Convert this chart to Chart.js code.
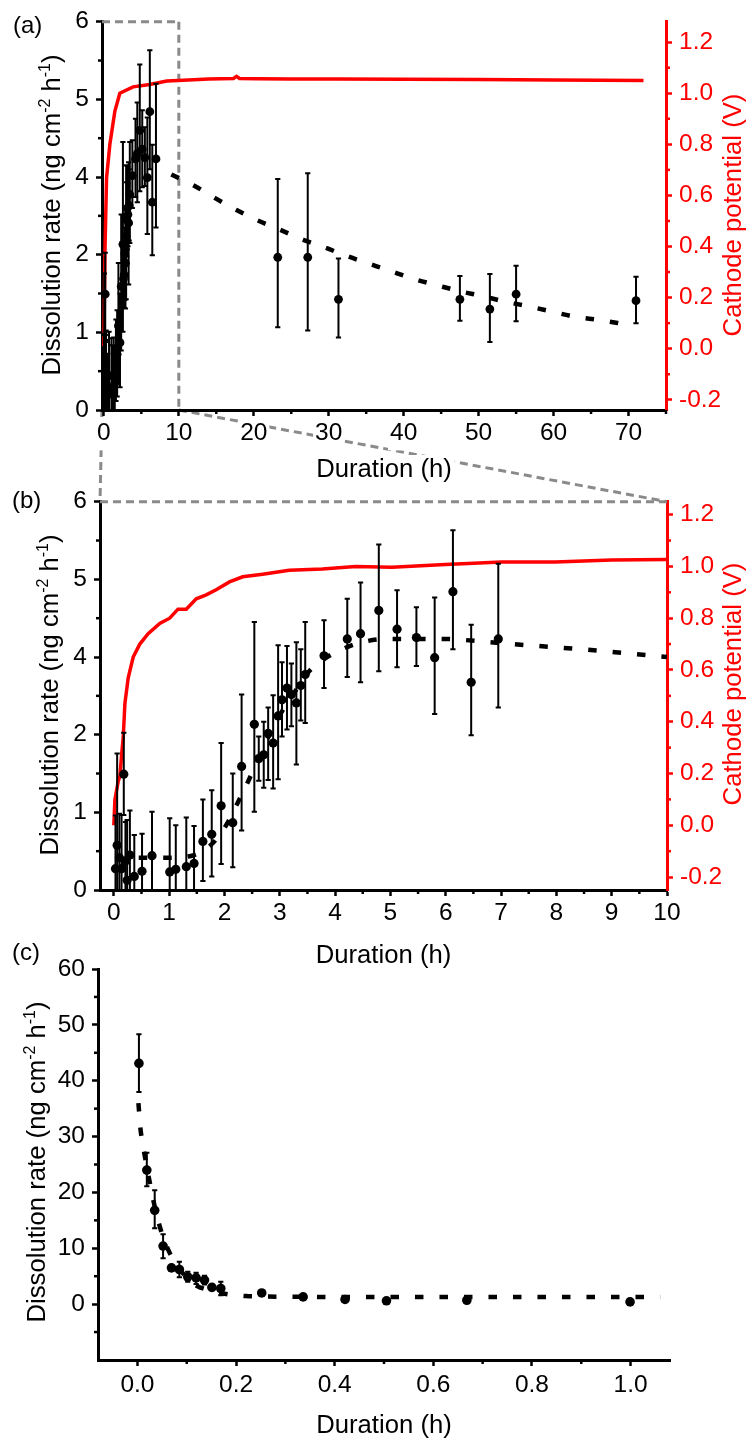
<!DOCTYPE html>
<html>
<head>
<meta charset="utf-8">
<script src="https://cdn.jsdelivr.net/npm/chart.js@4.4.1/dist/chart.umd.min.js"></script>
<style>
html,body{margin:0;padding:0;background:#fff;}
#wrap{position:relative;width:753px;height:1441px;overflow:hidden;background:#fff;}
#wrap canvas{position:absolute;left:0;}
</style>
</head>
<body>
<div id="wrap">
  <canvas id="ov" width="753" height="1441" style="top:0;z-index:0"></canvas>
  <canvas id="ca" width="753" height="490" style="top:0;z-index:1"></canvas>
  <canvas id="cb" width="753" height="500" style="top:480px;z-index:2"></canvas>
  <canvas id="cc" width="753" height="511" style="top:930px;z-index:3"></canvas>
</div>
<script>
// ================= DATA =================
// Dissolution rate, long run (panels a and b share it); y in left-axis units
const RATE_T  = [0.03,0.06,0.10,0.14,0.18,0.21,0.24,0.29,0.37,0.51,0.69,1.01,1.12,1.31,1.45,1.61,1.77,1.94,2.15,2.31,2.54,2.62,2.71,2.79,2.88,2.97,3.04,3.13,3.21,3.30,3.38,3.46,3.80,4.22,4.46,4.79,5.12,5.47,5.80,6.13,6.46,6.95,23.2,27.2,31.3,47.5,51.5,55.0,71.0];
const RATE_V  = [0.33,0.69,0.50,0.33,1.79,0.45,0.15,0.54,0.21,0.29,0.53,0.28,0.32,0.36,0.41,0.75,0.86,1.30,1.04,1.91,2.56,2.03,2.09,2.42,2.27,2.69,2.94,3.12,3.02,2.89,3.16,3.33,3.62,3.88,3.96,4.32,4.03,3.90,3.59,4.61,3.21,3.88,2.36,2.36,1.71,1.71,1.56,1.79,1.69];
const RATE_LO = [0,0,0,0,1.16,0,0,0,0,0,0,0,0,0,0,0.14,0.21,0.40,0.35,0.92,1.21,1.69,1.58,1.70,1.57,1.71,2.37,2.48,2.53,1.94,2.62,2.58,3.12,3.29,3.21,3.38,3.44,3.46,2.72,3.72,2.39,2.82,1.28,1.23,1.12,1.38,1.05,1.37,1.34];
const RATE_HI = [1.15,2.11,1.18,1.16,2.43,1.05,1.08,1.23,0.85,0.87,1.21,1.11,1.00,1.12,0.99,1.40,1.54,2.27,1.80,3.02,4.14,2.37,2.60,2.82,3.01,3.78,3.52,3.77,3.50,3.83,3.72,4.14,4.17,4.50,4.75,5.34,4.63,4.37,4.52,5.56,4.10,5.04,3.57,3.66,2.34,2.07,2.10,2.23,2.06];

// Dashed fits
const FIT_B_T = [0.45,1.0,1.41,1.76,2.03,2.24,2.43,2.7,3.0,3.3,3.5,3.77,4.18,4.6,5.03,5.9,6.8,7.2,8.0,9.0,10.0];
const FIT_B_V = [0.50,0.50,0.53,0.70,1.00,1.35,1.68,2.20,2.70,3.10,3.35,3.55,3.74,3.85,3.88,3.88,3.83,3.80,3.75,3.68,3.60];
const FIT_A_T = [9.0,12.3,14.9,17.7,20.5,23.2,26.6,29.5,32.4,35.4,38.4,41.5,44.4,47.7,50.5,53.3,56.3,59.8,62.9,66.1,69.8];
const FIT_A_V = [3.64,3.45,3.27,3.09,2.93,2.80,2.63,2.51,2.38,2.26,2.14,2.02,1.93,1.83,1.76,1.68,1.61,1.52,1.44,1.39,1.32];

// Cathode potential (V)
const POT_A_T = [0,0.15,0.36,0.8,1.47,2.13,3.9,6.1,8.4,9.9,14,17.3,17.7,18.1,20.4,25,31,40,50,60,72];
const POT_A_V = [0.01,0.39,0.67,0.80,0.93,1.00,1.025,1.034,1.048,1.05,1.056,1.058,1.066,1.058,1.057,1.056,1.056,1.055,1.054,1.052,1.05];
const POT_B_T = [0,0.02,0.08,0.11,0.14,0.17,0.2,0.26,0.35,0.47,0.62,0.83,1.01,1.16,1.31,1.49,1.67,1.85,2.09,2.33,2.69,3.17,3.77,4.37,5.03,5.99,7.01,7.98,9.0,10.0];
const POT_B_V = [0.0,0.10,0.17,0.19,0.27,0.34,0.47,0.57,0.65,0.70,0.74,0.78,0.80,0.835,0.835,0.875,0.89,0.91,0.94,0.96,0.97,0.985,0.99,1.0,0.997,1.007,1.017,1.017,1.025,1.027];

// Panel (c): first hour
const C_T  = [0.003,0.019,0.035,0.052,0.069,0.085,0.102,0.119,0.136,0.151,0.169,0.252,0.336,0.421,0.505,0.668,0.999];
const C_V  = [43.1,24.0,16.8,10.4,6.5,6.2,4.9,4.7,4.3,3.0,2.8,2.0,1.3,0.84,0.6,0.7,0.4];
const C_LO = [38.0,21.1,13.6,8.2,6.0,4.8,4.0,3.6,3.5,2.5,1.6,1.7,1.0,0.6,0.3,0.4,0.1];
const C_HI = [48.3,27.1,20.4,12.5,7.0,7.6,5.8,5.6,5.1,3.5,4.0,2.5,1.6,1.1,0.9,1.0,0.7];
const FIT_C_T = [0.002,0.006,0.01,0.016,0.02,0.025,0.03,0.035,0.04,0.045,0.05,0.06,0.07,0.08,0.09,0.1,0.12,0.14,0.16,0.18,0.2,0.22,0.25,0.3,0.4,0.6,0.8,1.06];
const FIT_C_V = [36,31.5,29,26,24,21.8,19.5,17.5,15.6,14,12.5,10.2,8.4,7,5.8,4.6,3.3,2.6,2.15,1.8,1.6,1.45,1.37,1.32,1.3,1.3,1.3,1.3];

// Tick labels
const RATE_TICK_LABELS = ['0','1','2','4','5','6'];
const POT_TICK_LABELS  = ['-0.2','0.0','0.2','0.4','0.6','0.8','1.0','1.2'];
const XA_TICK_LABELS   = ['0','10','20','30','40','50','60','70'];
const XB_TICK_LABELS   = ['0','1','2','3','4','5','6','7','8','9','10'];
const XC_TICK_LABELS   = ['0.0','0.2','0.4','0.6','0.8','1.0'];
const YC_TICK_LABELS   = ['0','10','20','30','40','50','60'];

// ================= HELPERS =================
const FONT = "'Liberation Sans', Arial, Helvetica, sans-serif";
Chart.defaults.font.family = FONT;
Chart.defaults.font.size = 24;
Chart.defaults.color = '#000';
const RED = '#ff0000';
const GREY = '#8a8a8a';
const xy = (t, v) => t.map((x, i) => ({x: x, y: v[i]}));
const RATE_TICK_VALUES = RATE_TICK_LABELS.map((_, i) => i * 6 / (RATE_TICK_LABELS.length - 1));

function axis(o) {
  const color = o.color || '#000';
  return {
    type: 'linear', position: o.pos, min: o.min, max: o.max,
    afterBuildTicks: s => { s.ticks = o.values.map(v => ({value: v})); },
    afterFit: s => { if (o.width != null) s.width = o.width; if (o.height != null) s.height = o.height; },
    ticks: {
      autoSkip: false, maxRotation: 0, minRotation: 0, color: color,
      font: {size: 24.5, family: FONT}, padding: o.pad,
      callback: (v, i) => o.labels[i],
      showLabelBackdrop: !!o.backdrop, backdropColor: '#ffffff', backdropPadding: 2
    },
    grid: {display: true, drawOnChartArea: false, drawTicks: true, tickLength: 6, tickWidth: 2.5, tickColor: color},
    border: {display: true, color: color, width: 3},
    title: {display: false}
  };
}

const TITLE_FONT = "25.7px " + FONT;
const SUP_FONT = "16px " + FONT;
const RATE_TITLE = [{t: 'Dissolution rate (ng cm'}, {t: '-2', sup: true}, {t: ' h'}, {t: '-1', sup: true}, {t: ')'}];
const POT_TITLE = [{t: 'Cathode potential (V)'}];

function drawVertical(ctx, parts, bx, cy, color) {
  ctx.save();
  ctx.translate(bx, cy); ctx.rotate(-Math.PI / 2);
  ctx.fillStyle = color; ctx.textBaseline = 'alphabetic'; ctx.textAlign = 'left';
  let w = 0;
  parts.forEach(p => { ctx.font = p.sup ? SUP_FONT : TITLE_FONT; w += ctx.measureText(p.t).width; });
  let x = -w / 2;
  parts.forEach(p => {
    ctx.font = p.sup ? SUP_FONT : TITLE_FONT;
    ctx.fillText(p.t, x, p.sup ? -9.5 : 0);
    x += ctx.measureText(p.t).width;
  });
  ctx.restore();
}

function dashLine(ctx, x1, y1, x2, y2) {
  ctx.save();
  ctx.strokeStyle = GREY; ctx.lineWidth = 3; ctx.setLineDash([8, 5]);
  ctx.beginPath(); ctx.moveTo(x1, y1); ctx.lineTo(x2, y2); ctx.stroke();
  ctx.restore();
}

const deco = {
  id: 'deco',
  beforeDatasetsDraw(chart, args, o) {
    const ctx = chart.ctx;
    if (o.zoomRect) {
      const x = chart.scales.x, y = chart.scales.y;
      const xl = x.getPixelForValue(o.zoomRect[0]), xr = x.getPixelForValue(o.zoomRect[1]);
      const yb = y.getPixelForValue(o.zoomRect[2]), yt = y.getPixelForValue(o.zoomRect[3]);
      dashLine(ctx, xl, yt, xr, yt);
      dashLine(ctx, xr, yt, xr, yb);
    }
    if (o.topLine) {
      const a = chart.chartArea;
      dashLine(ctx, a.left, a.top, a.right, a.top);
    }
  },
  beforeDatasetDraw(chart, args) {
    const ds = chart.data.datasets[args.index];
    if (!ds.errLo) return;
    const ctx = chart.ctx, meta = args.meta;
    const xs = chart.scales[meta.xAxisID], ys = chart.scales[meta.yAxisID];
    ctx.save();
    ctx.strokeStyle = '#000'; ctx.lineWidth = 2;
    ds.data.forEach((p, i) => {
      const px = xs.getPixelForValue(p.x);
      const t = ys.getPixelForValue(ds.errHi[i]), b = ys.getPixelForValue(ds.errLo[i]);
      ctx.beginPath();
      ctx.moveTo(px, t); ctx.lineTo(px, b);
      ctx.moveTo(px - 2.6, t); ctx.lineTo(px + 2.6, t);
      ctx.moveTo(px - 2.6, b); ctx.lineTo(px + 2.6, b);
      ctx.stroke();
    });
    ctx.restore();
  },
  afterDraw(chart, args, o) {
    const ctx = chart.ctx, a = chart.chartArea, top = o.top;
    (o.minor || []).forEach(m => {
      const s = chart.scales[m.id];
      ctx.save(); ctx.strokeStyle = m.color || '#000'; ctx.lineWidth = 2.5;
      for (let v = m.start; v <= m.end + 1e-9; v += m.step) {
        const p = s.getPixelForValue(v);
        ctx.beginPath();
        if (m.id === 'x') { ctx.moveTo(p, a.bottom); ctx.lineTo(p, a.bottom + 4); }
        else if (s.position === 'left') { ctx.moveTo(a.left, p); ctx.lineTo(a.left - 4, p); }
        else { ctx.moveTo(a.right, p); ctx.lineTo(a.right + 4, p); }
        ctx.stroke();
      }
      ctx.restore();
    });
    if (o.xTitle) {
      ctx.save();
      ctx.font = TITLE_FONT;
      const w = ctx.measureText(o.xTitle.text).width;
      const cx = (a.left + a.right) / 2, by = o.xTitle.baseline - top;
      ctx.fillStyle = '#fff';
      ctx.fillRect(cx - w / 2 - 3, by - 22, w + 6, 29);
      ctx.fillStyle = '#000'; ctx.textAlign = 'center'; ctx.textBaseline = 'alphabetic';
      ctx.fillText(o.xTitle.text, cx, by);
      ctx.restore();
    }
    if (o.yLeft) drawVertical(ctx, RATE_TITLE, o.yLeft.bx, o.yLeft.cy - top, '#000');
    if (o.yRight) drawVertical(ctx, POT_TITLE, o.yRight.bx, o.yRight.cy - top, RED);
    if (o.panel) {
      ctx.save(); ctx.font = "24px " + FONT; ctx.fillStyle = '#000';
      ctx.textAlign = 'left'; ctx.textBaseline = 'alphabetic';
      ctx.fillText(o.panel.text, o.panel.x, o.panel.y - top);
      ctx.restore();
    }
  }
};

function pointsDs(t, v, lo, hi, r, yID) {
  return {type: 'scatter', data: xy(t, v), errLo: lo, errHi: hi, yAxisID: yID || 'y', order: 0,
    showLine: false, pointRadius: r, pointHoverRadius: r, backgroundColor: '#000', borderWidth: 0, pointBorderWidth: 0};
}
function fitDs(t, v) {
  return {type: 'scatter', data: xy(t, v), yAxisID: 'y', order: 1, showLine: true, pointRadius: 0,
    borderColor: '#000', borderWidth: 4.5, borderDash: [8.5, 16], borderCapStyle: 'butt',
    cubicInterpolationMode: 'monotone', fill: false};
}
function potDs(t, v) {
  return {type: 'scatter', data: xy(t, v), yAxisID: 'y2', order: 2, showLine: true, pointRadius: 0,
    borderColor: RED, borderWidth: 3.5, tension: 0, fill: false};
}
const baseOpts = {responsive: false, animation: false, devicePixelRatio: 1, events: []};

// ================= PANEL (a) =================
const TOP_A = 0, TOP_B = 480, TOP_C = 930;
const ZOOM = [-0.25, 10, 0, 6];

const chartA = new Chart(document.getElementById('ca'), {
  type: 'scatter',
  data: {datasets: [
    pointsDs(RATE_T, RATE_V, RATE_LO, RATE_HI, 4.4),
    fitDs(FIT_A_T, FIT_A_V),
    potDs(POT_A_T, POT_A_V)
  ]},
  options: Object.assign({}, baseOpts, {
    layout: {padding: {top: 19, left: 0, right: 0, bottom: 0}},
    scales: {
      x: axis({pos: 'bottom', min: -0.25, max: 75, values: XA_TICK_LABELS.map(Number), labels: XA_TICK_LABELS, height: 80, pad: 3, backdrop: true}),
      y: axis({pos: 'left', min: 0, max: 6, values: RATE_TICK_VALUES, labels: RATE_TICK_LABELS, width: 102, pad: 7}),
      y2: axis({pos: 'right', min: -0.24, max: 1.28, values: POT_TICK_LABELS.map(Number), labels: POT_TICK_LABELS, width: 87, pad: 7, color: RED})
    },
    plugins: {
      legend: {display: false}, tooltip: {enabled: false},
      deco: {
        top: TOP_A, zoomRect: ZOOM,
        minor: [{id: 'x', start: 5, step: 10, end: 75}, {id: 'y', start: 0.6, step: 1.2, end: 5.4},
                {id: 'y2', start: -0.1, step: 0.2, end: 1.1, color: RED}],
        xTitle: {text: 'Duration (h)', baseline: 477},
        yLeft: {bx: 59.5, cy: 215}, yRight: {bx: 741, cy: 215},
        panel: {text: '(a)', x: 13, y: 33}
      }
    }
  }),
  plugins: [deco]
});

// ================= PANEL (b) =================
const chartB = new Chart(document.getElementById('cb'), {
  type: 'scatter',
  data: {datasets: [
    pointsDs(RATE_T, RATE_V, RATE_LO, RATE_HI, 4.6),
    fitDs(FIT_B_T, FIT_B_V),
    potDs(POT_B_T, POT_B_V)
  ]},
  options: Object.assign({}, baseOpts, {
    layout: {padding: {top: 21, left: 0, right: 0, bottom: 0}},
    scales: {
      x: axis({pos: 'bottom', min: ZOOM[0], max: ZOOM[1], values: XB_TICK_LABELS.map(Number), labels: XB_TICK_LABELS, height: 90, pad: 3}),
      y: axis({pos: 'left', min: ZOOM[2], max: ZOOM[3], values: RATE_TICK_VALUES, labels: RATE_TICK_LABELS, width: 100, pad: 7}),
      y2: axis({pos: 'right', min: -0.25, max: 1.25, values: POT_TICK_LABELS.map(Number), labels: POT_TICK_LABELS, width: 86, pad: 7, color: RED})
    },
    plugins: {
      legend: {display: false}, tooltip: {enabled: false},
      deco: {
        top: TOP_B, topLine: true,
        minor: [{id: 'x', start: 0.5, step: 1, end: 9.5}, {id: 'y', start: 0.6, step: 1.2, end: 5.4},
                {id: 'y2', start: -0.1, step: 0.2, end: 1.1, color: RED}],
        xTitle: {text: 'Duration (h)', baseline: 963},
        yLeft: {bx: 57.5, cy: 695}, yRight: {bx: 741, cy: 684},
        panel: {text: '(b)', x: 12, y: 508}
      }
    }
  }),
  plugins: [deco]
});

// ================= PANEL (c) =================
const chartC = new Chart(document.getElementById('cc'), {
  type: 'scatter',
  data: {datasets: [
    pointsDs(C_T, C_V, C_LO, C_HI, 4.8),
    fitDs(FIT_C_T, FIT_C_V)
  ]},
  options: Object.assign({}, baseOpts, {
    layout: {padding: {top: 39, left: 0, right: 83, bottom: 0}},
    scales: {
      x: axis({pos: 'bottom', min: -0.08, max: 1.08, values: XC_TICK_LABELS.map(Number), labels: XC_TICK_LABELS, height: 81, pad: 5}),
      y: axis({pos: 'left', min: -10, max: 60, values: YC_TICK_LABELS.map(Number), labels: YC_TICK_LABELS, width: 98, pad: 7})
    },
    plugins: {
      legend: {display: false}, tooltip: {enabled: false},
      deco: {
        top: TOP_C,
        minor: [{id: 'x', start: 0.1, step: 0.2, end: 0.9}, {id: 'y', start: -5, step: 10, end: 55}],
        xTitle: {text: 'Duration (h)', baseline: 1433},
        yLeft: {bx: 44.6, cy: 1162},
        panel: {text: '(c)', x: 12, y: 960}
      }
    }
  }),
  plugins: [deco]
});

// ================= zoom connectors (a) -> (b) =================
(function () {
  const ctx = document.getElementById('ov').getContext('2d');
  const ax = chartA.scales.x, ay = chartA.scales.y, bx = chartB.scales.x, by = chartB.scales.y;
  const y0 = ay.getPixelForValue(ZOOM[2]) + TOP_A;
  const yTop = by.getPixelForValue(ZOOM[3]) + TOP_B;
  dashLine(ctx, ax.getPixelForValue(ZOOM[0]), y0, bx.getPixelForValue(ZOOM[0]), yTop);
  dashLine(ctx, ax.getPixelForValue(ZOOM[1]), y0, bx.getPixelForValue(ZOOM[1]), yTop);
})();
</script>
</body>
</html>
